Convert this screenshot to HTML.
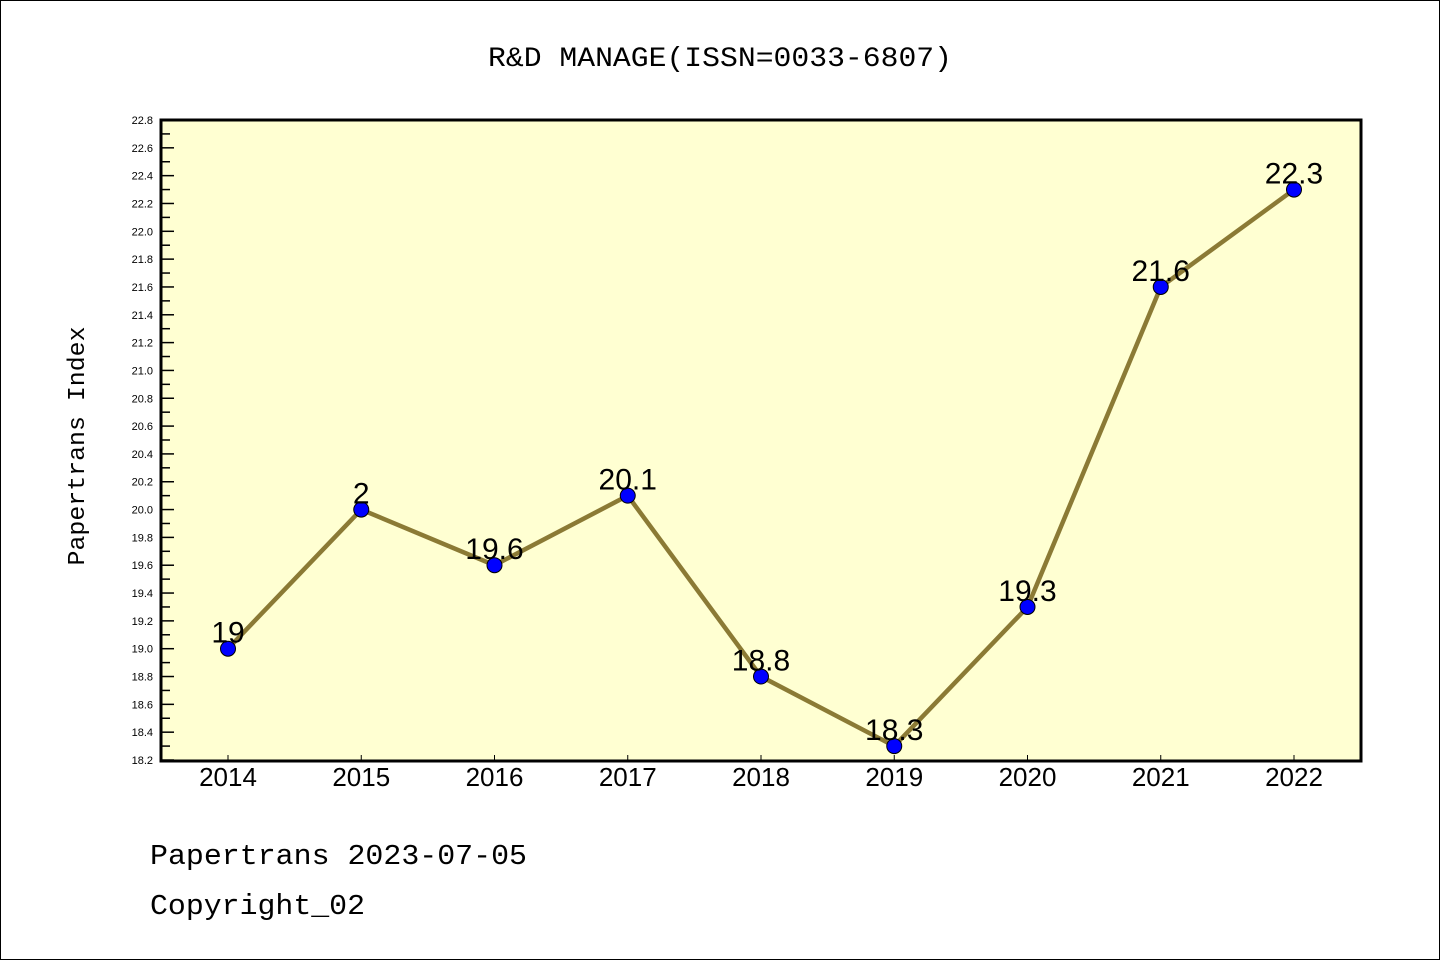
<!DOCTYPE html>
<html><head><meta charset="utf-8"><style>
body{margin:0;background:#fff}
svg{display:block;font-family:"Liberation Mono","DejaVu Sans Mono",monospace}
</style></head><body>
<svg id="chart" width="1440" height="960" xmlns="http://www.w3.org/2000/svg">
<rect x="0.5" y="0.5" width="1439" height="959" fill="#fff" stroke="#000"/>
<text x="720" y="66" font-size="28" text-anchor="middle" textLength="464" lengthAdjust="spacingAndGlyphs">R&amp;D MANAGE(ISSN=0033-6807)</text>
<rect x="161" y="120" width="1200" height="641" fill="#ffffd2"/>
<g id="yticks"></g><g id="xticks"></g>
<path id="line" fill="none" stroke="#8b7a35" stroke-width="4.5"/>
<g id="points"></g>
<rect x="161" y="120" width="1200" height="641" fill="none" stroke="#000" stroke-width="3"/>
<text transform="translate(84,446) rotate(-90)" font-size="24" text-anchor="middle" textLength="239" lengthAdjust="spacingAndGlyphs">Papertrans Index</text>
<text x="150" y="864" font-size="29" textLength="377" lengthAdjust="spacingAndGlyphs">Papertrans 2023-07-05</text>
<text x="150" y="914" font-size="29" textLength="215" lengthAdjust="spacingAndGlyphs">Copyright_02</text>
</svg>
<script>
const years=["2014","2015","2016","2017","2018","2019","2020","2021","2022"];
const values=[19,20,19.6,20.1,18.8,18.3,19.3,21.6,22.3];
const labels=["19","2","19.6","20.1","18.8","18.3","19.3","21.6","22.3"];
const yMin=18.2,yMax=22.8;
const NS="http://www.w3.org/2000/svg";
const X=i=>228+i*(1294-228)/8;
const Y=v=>760-(v-yMin)/(yMax-yMin)*640;
function mk(t,a,p){const e=document.createElementNS(NS,t);for(const k in a)e.setAttribute(k,a[k]);p.appendChild(e);return e;}
const yt=document.getElementById('yticks');
for(let k=0;k<=46;k++){const v=yMin+k*0.1;const y=Y(v);
 const major=k%2===0;
 const l=mk('line',{x1:161,x2:161+(major?13:9),y1:y,y2:y,stroke:'#000','stroke-width':1.5},yt);
 
 
 if(major){const t=mk('text',{x:153,y:y+4,'font-size':11,'text-anchor':'end','font-family':'Liberation Sans, sans-serif'},yt);t.textContent=v.toFixed(1);
 
 }
}
const xt=document.getElementById('xticks');
years.forEach((yr,i)=>{const x=X(i);
 const l=mk('line',{x1:x,x2:x,y1:761,y2:755,stroke:'#000','stroke-width':1},xt);
 
 
 const t=mk('text',{x:x,y:786,'font-size':26,'text-anchor':'middle','font-family':'Liberation Sans, sans-serif'},xt);t.textContent=yr;
 
 
});
document.getElementById('line').setAttribute('d',values.map((v,i)=>(i?'L':'M')+X(i)+','+Y(v)).join(''));
const pg=document.getElementById('points');
values.forEach((v,i)=>{
 const c=mk('circle',{cx:X(i),cy:Y(v),r:7.5,fill:'#0000ff',stroke:'#000','stroke-width':1},pg);
 
 
 const t=mk('text',{x:X(i),y:Y(v)-6,'font-size':30,'text-anchor':'middle','font-family':'Liberation Sans, sans-serif'},pg);t.textContent=labels[i];
 
 
});
</script>
</body></html>
